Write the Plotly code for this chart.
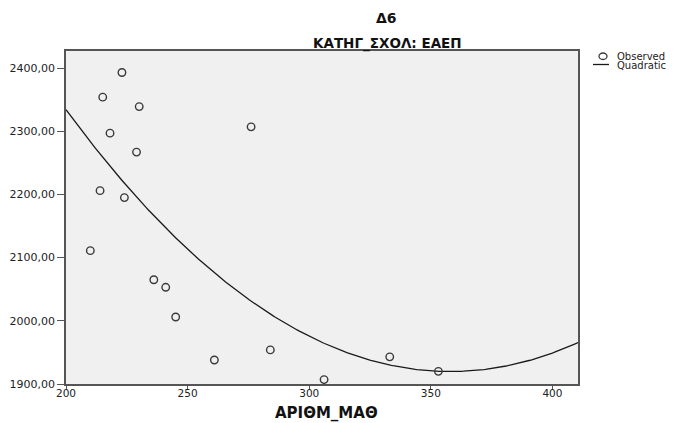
import numpy as np
import plotly.graph_objects as go

arithm_math = [223.0, 215.1, 230.1, 218.1, 229.0, 214.0, 224.0, 276.1,
               210.0, 236.1, 241.0, 245.1, 261.0, 284.0, 306.1, 333.1, 353.1]
d6 = [2393, 2354, 2339, 2297, 2267, 2206, 2195, 2307,
      2111, 2065, 2053, 2006, 1938, 1954, 1907, 1943, 1920]

x_range = [200, 410.5]
y_range = [1900, 2427]
x_ticks = [200, 250, 300, 350, 400]
y_ticks = [1900, 2000, 2100, 2200, 2300, 2400]

title_text = "Δ6"
subtitle_text = "ΚΑΤΗΓ_ΣΧΟΛ: ΕΑΕΠ"
x_title = "ΑΡΙΘΜ_ΜΑΘ"
legend_labels = ["Observed", "Quadratic"]

# Quadratic fit
coef = np.polyfit(arithm_math, d6, 2)
xf = np.linspace(x_range[0], x_range[1], 300)
yf = np.polyval(coef, xf)

FONT = "DejaVu Sans, Verdana, sans-serif"

L, R, T, B = 66, 578, 51, 384
W, H = 677, 423

fig = go.Figure()
fig.add_trace(go.Scatter(x=xf, y=yf, mode="lines",
                         line=dict(color="#1a1a1a", width=1.3),
                         name=legend_labels[1], showlegend=False))
fig.add_trace(go.Scatter(x=arithm_math, y=d6, mode="markers",
                         marker=dict(symbol="circle-open", size=7.5,
                                     color="#3a3a3a", line=dict(width=1.4)),
                         name=legend_labels[0], showlegend=False))

fig.update_layout(
    width=W, height=H,
    margin=dict(l=L, r=W - R, t=T, b=H - B, autoexpand=False),
    paper_bgcolor="white", plot_bgcolor="#f0f0f0",
    separators=", ",
    font=dict(family=FONT, size=11, color="#222"),
    showlegend=False,
)
fig.update_xaxes(range=x_range, tickvals=x_ticks, ticks="outside", ticklen=4,
                 tickcolor="#555", tickwidth=1.3, showgrid=False, zeroline=False,
                 showline=True, linecolor="#555", linewidth=1.6, mirror=True,
                 automargin=False, ticklabelstandoff=-5,
                 tickfont=dict(size=10.5, family=FONT, color="#222"))
fig.update_yaxes(range=y_range, tickvals=y_ticks, tickformat=".2f", ticks="outside",
                 ticklen=7, tickcolor="#555", tickwidth=1.3, showgrid=False, zeroline=False,
                 showline=True, linecolor="#555", linewidth=1.6, mirror=True,
                 automargin=False,
                 tickfont=dict(size=11, family=FONT, color="#222"))


def px_x(p):
    return (p - L) / (R - L)


def px_y(p):
    return 1 - (p - T) / (B - T)


# Titles
fig.add_annotation(text="<b>" + title_text + "</b>", xref="paper", yref="paper",
                   x=px_x(386), y=px_y(18), showarrow=False,
                   xanchor="center", yanchor="middle",
                   font=dict(size=14, family=FONT, color="#111"))
fig.add_annotation(text="<b>" + subtitle_text + "</b>", xref="paper", yref="paper",
                   x=px_x(387), y=px_y(43), showarrow=False,
                   xanchor="center", yanchor="middle",
                   font=dict(size=13.5, family=FONT, color="#111"))
fig.add_annotation(text="<b>" + x_title + "</b>", xref="paper", yref="paper",
                   x=px_x(326), y=px_y(412.5), showarrow=False,
                   xanchor="center", yanchor="middle",
                   font=dict(size=15, family=FONT, color="#111"))

# Manual legend
fig.add_shape(type="circle", xref="paper", yref="paper",
              x0=px_x(599), x1=px_x(607), y0=px_y(59.5), y1=px_y(53),
              line=dict(color="#3a3a3a", width=1.3))
fig.add_shape(type="line", xref="paper", yref="paper",
              x0=px_x(593), x1=px_x(609), y0=px_y(64.5), y1=px_y(64.5),
              line=dict(color="#1a1a1a", width=1.3))
fig.add_annotation(text=legend_labels[0], xref="paper", yref="paper",
                   x=px_x(615), y=px_y(56.5),
                   showarrow=False, xanchor="left", yanchor="middle",
                   font=dict(size=10, family=FONT, color="#222"))
fig.add_annotation(text=legend_labels[1], xref="paper", yref="paper",
                   x=px_x(615), y=px_y(65.5),
                   showarrow=False, xanchor="left", yanchor="middle",
                   font=dict(size=10, family=FONT, color="#222"))

fig.write_html("out.html", config={"displayModeBar": False},
               post_script="document.body.style.margin='0';document.body.style.padding='0';")
